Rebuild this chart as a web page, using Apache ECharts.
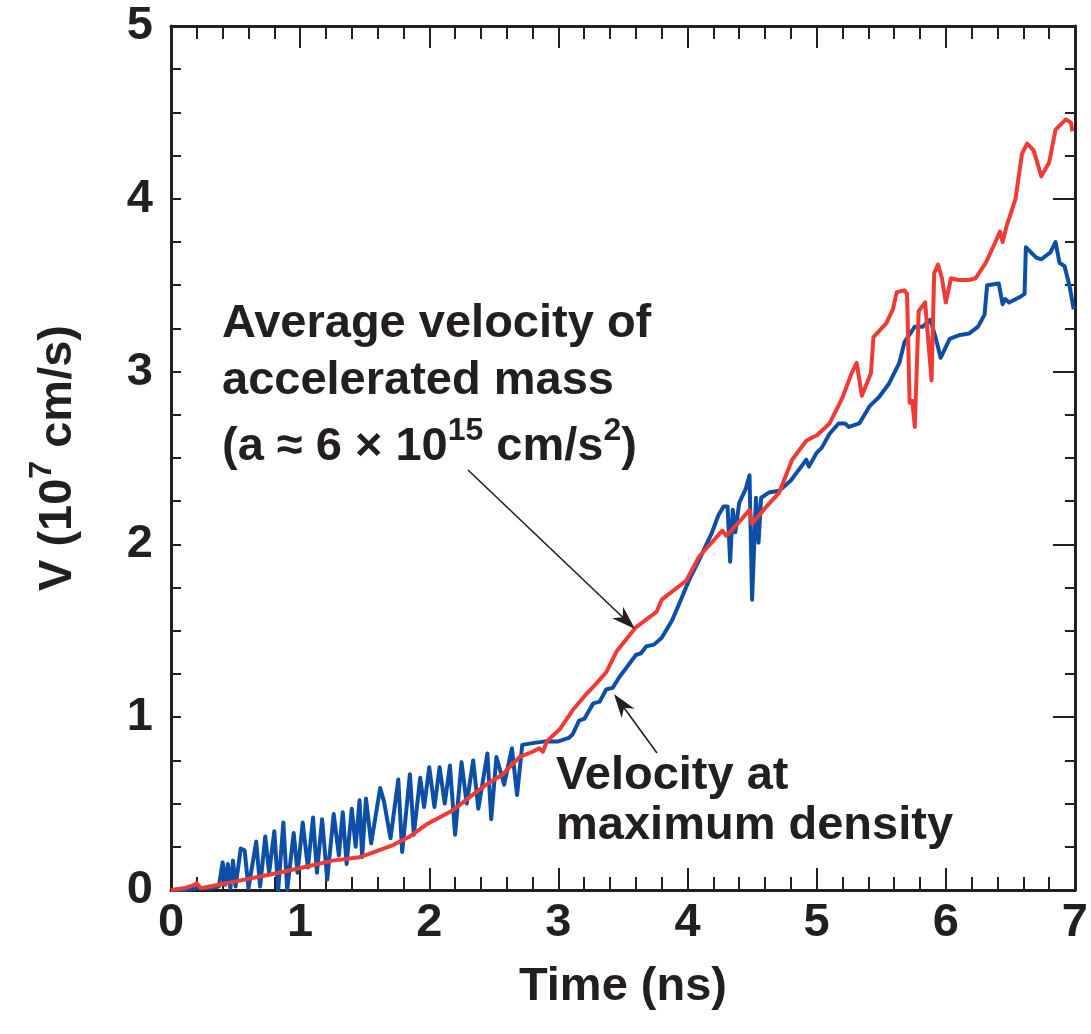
<!DOCTYPE html>
<html><head><meta charset="utf-8">
<script src="https://cdn.jsdelivr.net/npm/echarts@6/dist/echarts.min.js"></script>
<style>html,body{margin:0;padding:0;background:#fff}#c{width:1091px;height:1034px}</style>
</head><body><div id="c"></div>
<script>
const xTicks = [0,1,2,3,4,5,6,7];
const yTicks = [0,1,2,3,4,5];
const blueTime = [0.00,0.10,0.20,0.30,0.37,0.40,0.42,0.44,0.46,0.48,0.50,0.54,0.57,0.60,0.66,0.69,0.73,0.76,0.80,0.83,0.87,0.90,0.95,0.98,1.02,1.06,1.10,1.13,1.17,1.21,1.26,1.30,1.33,1.36,1.40,1.43,1.46,1.48,1.51,1.55,1.62,1.65,1.70,1.76,1.79,1.85,1.88,1.93,1.96,2.00,2.04,2.08,2.12,2.16,2.20,2.25,2.29,2.34,2.38,2.45,2.48,2.52,2.58,2.64,2.68,2.72,2.80,2.90,3.00,3.08,3.11,3.16,3.20,3.27,3.32,3.37,3.42,3.47,3.53,3.60,3.64,3.68,3.74,3.80,3.88,3.96,4.01,4.09,4.19,4.24,4.28,4.31,4.33,4.35,4.37,4.40,4.45,4.48,4.50,4.53,4.55,4.57,4.63,4.71,4.80,4.86,4.92,4.94,5.00,5.04,5.10,5.17,5.22,5.25,5.33,5.41,5.48,5.56,5.64,5.68,5.76,5.82,5.88,5.92,5.96,6.03,6.10,6.18,6.25,6.30,6.32,6.41,6.44,6.46,6.49,6.57,6.61,6.62,6.70,6.74,6.81,6.85,6.88,6.92,6.96,6.99];
const blueVel  = [0.00,0.00,0.01,0.01,0.02,0.16,0.03,0.15,0.01,0.17,0.02,0.24,0.23,0.01,0.28,0.02,0.31,0.10,0.34,0.00,0.39,0.00,0.33,0.10,0.39,0.13,0.42,0.10,0.41,0.06,0.44,0.20,0.45,0.15,0.47,0.25,0.52,0.19,0.53,0.27,0.59,0.51,0.30,0.64,0.22,0.67,0.32,0.65,0.48,0.71,0.48,0.71,0.50,0.72,0.32,0.74,0.50,0.75,0.47,0.79,0.41,0.77,0.61,0.82,0.55,0.84,0.85,0.86,0.86,0.88,0.90,0.98,0.99,1.08,1.09,1.16,1.17,1.23,1.29,1.36,1.37,1.41,1.42,1.46,1.56,1.70,1.79,1.91,2.07,2.17,2.22,2.22,1.90,2.20,2.07,2.24,2.32,2.40,1.68,2.27,2.01,2.27,2.30,2.31,2.37,2.43,2.49,2.45,2.53,2.56,2.64,2.70,2.70,2.68,2.70,2.80,2.85,2.93,3.05,3.17,3.26,3.26,3.30,3.20,3.08,3.19,3.21,3.22,3.26,3.33,3.50,3.51,3.39,3.42,3.40,3.43,3.45,3.72,3.66,3.65,3.69,3.75,3.63,3.61,3.49,3.36];
const redTime = [0.00,0.10,0.18,0.20,0.23,0.30,0.50,0.77,1.02,1.25,1.46,1.54,1.72,1.85,1.98,2.18,2.30,2.44,2.57,2.70,2.80,2.85,2.88,2.91,3.01,3.11,3.20,3.30,3.37,3.45,3.60,3.76,3.80,3.99,4.09,4.27,4.30,4.40,4.48,4.50,4.60,4.71,4.81,4.92,4.97,5.00,5.10,5.20,5.27,5.31,5.35,5.42,5.44,5.54,5.59,5.62,5.68,5.70,5.72,5.74,5.76,5.79,5.84,5.89,5.91,5.94,5.97,6.00,6.04,6.10,6.18,6.23,6.31,6.39,6.42,6.44,6.47,6.54,6.59,6.63,6.68,6.74,6.80,6.85,6.93,6.97,6.98];
const redVel  = [0.00,0.01,0.03,0.04,0.01,0.02,0.05,0.09,0.13,0.17,0.19,0.21,0.26,0.31,0.38,0.46,0.53,0.61,0.67,0.77,0.80,0.82,0.80,0.86,0.93,1.04,1.12,1.20,1.26,1.38,1.52,1.61,1.68,1.79,1.93,2.08,2.05,2.13,2.20,2.12,2.21,2.30,2.49,2.60,2.62,2.63,2.70,2.85,2.99,3.05,2.86,2.99,3.20,3.28,3.36,3.46,3.47,3.45,2.82,2.83,2.68,3.35,3.40,2.95,3.57,3.62,3.54,3.40,3.54,3.53,3.53,3.54,3.63,3.76,3.81,3.75,3.84,4.00,4.26,4.32,4.28,4.13,4.21,4.40,4.46,4.44,4.39];

const INK = '#231f20';
const FONT = '"Liberation Sans", Arial, Helvetica, sans-serif';
const FS = 47;

function arrow(x1,y1,x2,y2){
  const dx=x2-x1, dy=y2-y1, L=Math.hypot(dx,dy), ux=dx/L, uy=dy/L, nx=-uy, ny=ux;
  const hl=24, hw=8, nt=17;
  const bx=x2-hl*ux, by=y2-hl*uy;
  return [
    {type:'line', shape:{x1:x1,y1:y1,x2:x2-nt*ux,y2:y2-nt*uy}, style:{stroke:INK,lineWidth:1.6}, z:10},
    {type:'polygon', shape:{points:[[x2,y2],[bx+hw*nx,by+hw*ny],[x2-nt*ux,y2-nt*uy],[bx-hw*nx,by-hw*ny]]}, style:{fill:INK}, z:10}
  ];
}

const chart = echarts.init(document.getElementById('c'), null, {renderer:'canvas'});
const axisLine = {show:true, onZero:false, lineStyle:{color:INK, width:3}};
const labelStyle = {color:INK, fontSize:FS, fontWeight:'bold', fontFamily:FONT};
const xCommon = {type:'value', gridIndex:0, min:xTicks[0], max:xTicks[xTicks.length-1], interval:1, splitLine:{show:false}, axisLine:axisLine,
  axisTick:{show:true, inside:true, length:22, lineStyle:{color:INK,width:2}},
  minorTick:{show:true, splitNumber:5, length:13, lineStyle:{color:INK,width:2}}, minorSplitLine:{show:false}};
const yCommon = {type:'value', gridIndex:0, min:yTicks[0], max:yTicks[yTicks.length-1], interval:1, splitLine:{show:false}, axisLine:axisLine,
  minorSplitLine:{show:false}};
const supRich = {
  a:{fontSize:FS, fontWeight:'bold', fontFamily:FONT, color:INK, lineHeight:56, verticalAlign:'bottom'},
  s:{fontSize:32, fontWeight:'bold', fontFamily:FONT, color:INK, lineHeight:56, verticalAlign:'top'}};

chart.setOption({
  animation:false,
  backgroundColor:'#fff',
  grid:{left:171, right:16, top:26, bottom:144, containLabel:false},
  xAxis:[
    Object.assign({}, xCommon, {position:'bottom', name:'Time (ns)', nameLocation:'middle', nameGap:74,
      nameTextStyle:{color:INK, fontSize:FS, fontWeight:'bold', fontFamily:FONT},
      axisLabel:Object.assign({margin:10, formatter:v=>String(v)}, labelStyle)}),
    Object.assign({}, xCommon, {position:'top', axisLabel:{show:false}})
  ],
  yAxis:[
    Object.assign({}, yCommon, {position:'left',
      name:'{a|V (10}{s|7}{a| cm/s)}', nameLocation:'middle', nameGap:89, nameRotate:90,
      nameTextStyle:{color:INK, fontFamily:FONT, rich:supRich},
      axisTick:{show:true, inside:true, length:10, lineStyle:{color:INK,width:2}},
      minorTick:{show:true, splitNumber:4, length:10, lineStyle:{color:INK,width:2}},
      axisLabel:Object.assign({margin:18, formatter:v=>String(v)}, labelStyle)}),
    Object.assign({}, yCommon, {position:'right',
      axisTick:{show:true, inside:true, length:22, lineStyle:{color:INK,width:2}},
      minorTick:{show:true, splitNumber:4, length:10, lineStyle:{color:INK,width:2}},
      axisLabel:{show:false}})
  ],
  series:[
    {type:'line', name:'Velocity at maximum density', xAxisIndex:0, yAxisIndex:0, showSymbol:false, symbol:'none',
      data:blueTime.map((t,i)=>[t,blueVel[i]]), lineStyle:{color:'#0d4fa6', width:4, join:'round'}, z:3},
    {type:'line', name:'Average velocity of accelerated mass', xAxisIndex:0, yAxisIndex:0, showSymbol:false, symbol:'none',
      data:redTime.map((t,i)=>[t,redVel[i]]), lineStyle:{color:'#ef3b33', width:4, join:'round'}, z:4},
    {type:'line', xAxisIndex:1, yAxisIndex:1, data:[], showSymbol:false, silent:true}
  ],
  graphic:[
    {type:'text', x:222, y:324, z:10, style:{text:'Average velocity of', font:'bold '+FS+'px '+FONT, fill:INK, verticalAlign:'middle'}},
    {type:'text', x:222, y:381, z:10, style:{text:'accelerated mass', font:'bold '+FS+'px '+FONT, fill:INK, verticalAlign:'middle'}},
    {type:'text', x:222, y:415, z:10, style:{text:'{a|(a ≈ 6 × 10}{s|15}{a| cm/s}{s|2}{a|)}', fill:INK, verticalAlign:'top', rich:supRich}},
    {type:'text', x:556, y:776, z:10, style:{text:'Velocity at', font:'bold '+FS+'px '+FONT, fill:INK, verticalAlign:'middle'}},
    {type:'text', x:556, y:826, z:10, style:{text:'maximum density', font:'bold '+FS+'px '+FONT, fill:INK, verticalAlign:'middle'}}
  ].concat(arrow(468,470,635,629)).concat(arrow(657,753,614,694))
});
</script>
</body></html>
